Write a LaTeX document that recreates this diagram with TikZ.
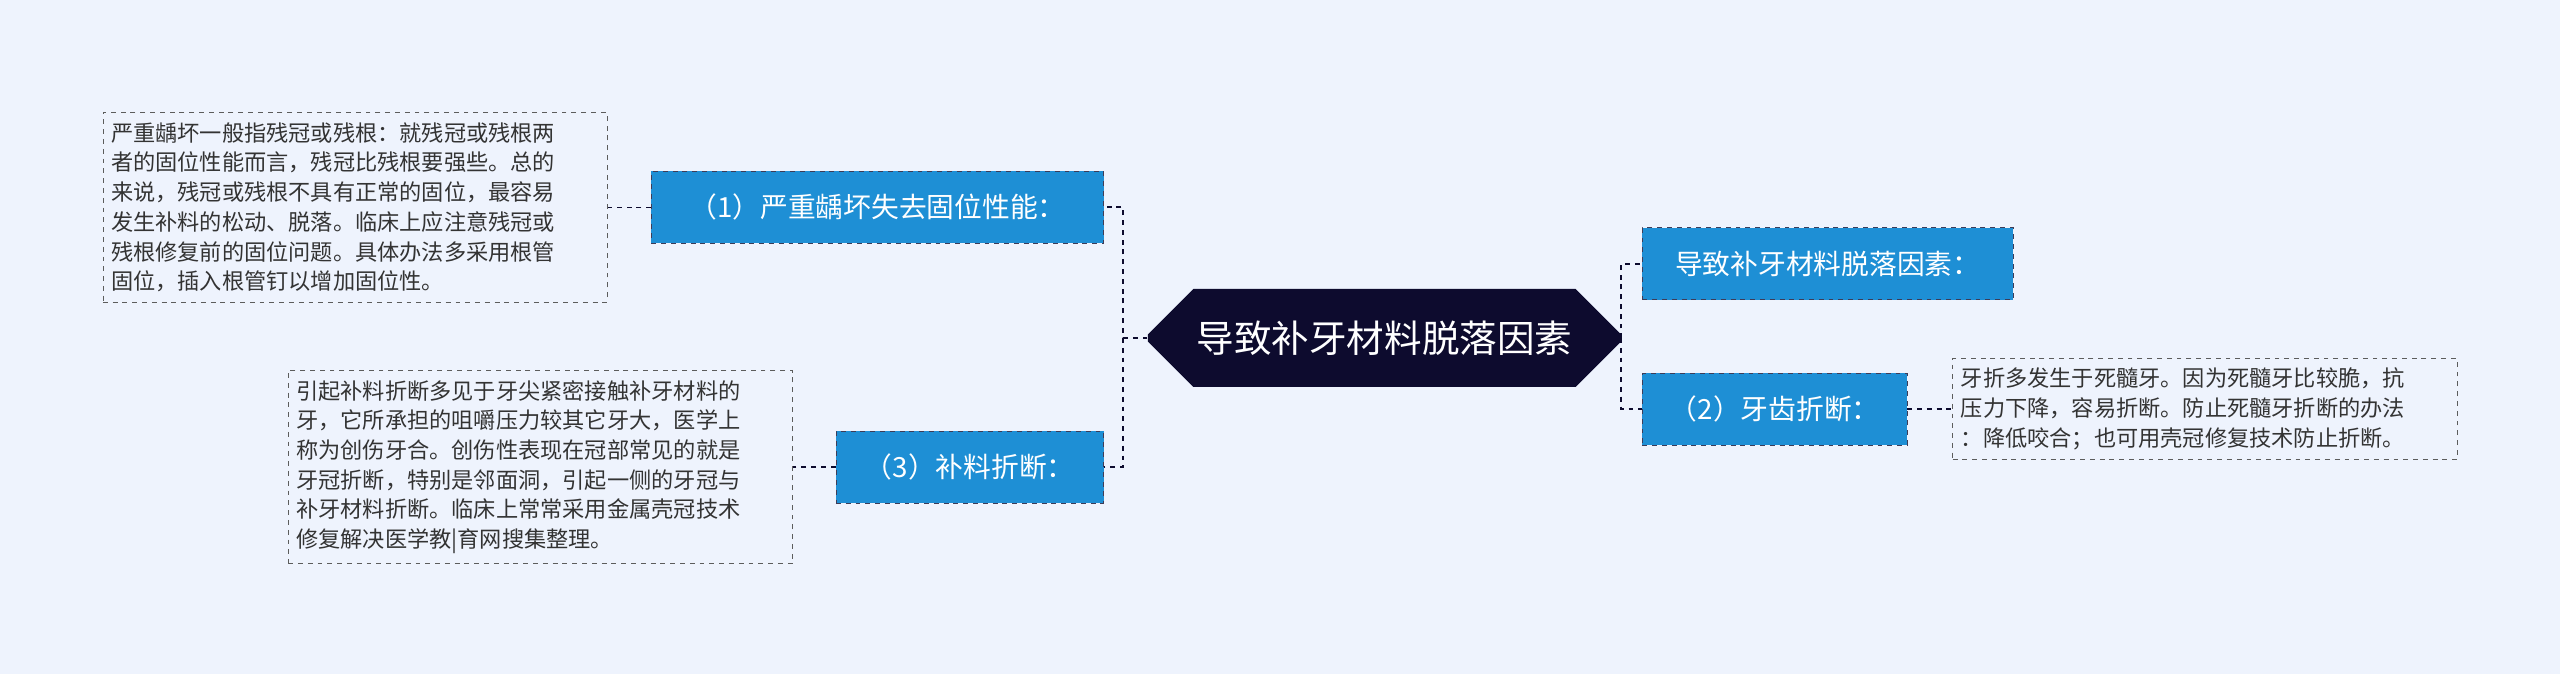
\documentclass[tikz,border=0pt]{standalone}
\usepackage{fontspec}
\newfontfamily\cjk{Noto Sans CJK SC}
\usetikzlibrary{shapes.misc,shapes.geometric}
\definecolor{bg}{HTML}{EEF3FD}
\definecolor{navy}{HTML}{0D0B2E}
\definecolor{blu}{HTML}{1E8FD5}
\definecolor{txt}{HTML}{333333}
\begin{document}
\begin{tikzpicture}[x=1pt,y=-1pt,
  topic/.style={draw=navy!80,dashed,fill=blu,text=white,font=\cjk\fontsize{17}{19}\selectfont,minimum height=44pt,inner xsep=6pt,anchor=center},
  leaf/.style={draw=txt!80,dashed,fill=bg,text=txt,font=\cjk\fontsize{13.6}{18.2}\selectfont,align=left,inner xsep=5pt,inner ysep=6pt,text width=#1},
  link/.style={draw=navy,dashed,line width=1.4pt}]
\fill[bg] (0,0) rectangle (1568,413);
\useasboundingbox (0,0) rectangle (1568,413);
\node[fill=navy,text=white,font=\cjk\fontsize{23}{25}\selectfont,chamfered rectangle,chamfered rectangle xsep=8pt,chamfered rectangle sep=14pt,chamfered rectangle corners={north west,south west,north east,south east},minimum width=290pt,minimum height=60pt] (c) at (848,207) {导致补牙材料脱落因素};
\node[topic,minimum width=277pt] (n1) at (537.5,127) {（1）严重龋坏失去固位性能：};
\node[topic,minimum width=164pt] (n3) at (594,286) {（3）补料折断：};
\node[topic,minimum width=227pt] (na) at (1119.5,161.5) {导致补牙材料脱落因素：};
\node[topic,minimum width=162pt] (n2) at (1087,250.5) {（2）牙齿折断：};
\node[leaf=299pt] (t1) at (217.5,127) {严重龋坏一般指残冠或残根：就残冠或残根两\\者的固位性能而言，残冠比残根要强些。总的\\来说，残冠或残根不具有正常的固位，最容易\\发生补料的松动、脱落。临床上应注意残冠或\\残根修复前的固位问题。具体办法多采用根管\\固位，插入根管钉以增加固位性。};
\node[leaf=299pt] (t3) at (331,286) {引起补料折断多见于牙尖紧密接触补牙材料的\\牙，它所承担的咀嚼压力较其它牙大，医学上\\称为创伤牙合。创伤性表现在冠部常见的就是\\牙冠折断，特别是邻面洞，引起一侧的牙冠与\\补牙材料折断。临床上常常采用金属壳冠技术\\修复解决医学教|育网搜集整理。};
\node[leaf=299pt] (t2) at (1350.5,250.5) {牙折多发生于死髓牙。因为死髓牙比较脆，抗\\压力下降，容易折断。防止死髓牙折断的办法\\：降低咬合；也可用壳冠修复技术防止折断。};
\coordinate (lj) at (688,207);
\coordinate (rj) at (993,207);
\draw[link] (c.west) -- (lj) |- (n1.east);
\draw[link] (lj) |- (n3.east);
\draw[link] (c.east) -- (rj) |- (na.west);
\draw[link] (rj) |- (n2.west);
\draw[link,line width=1pt] (n1.west) -- (t1.east);
\draw[link,line width=1pt] (n3.west) -- (t3.east);
\draw[link,line width=1pt] (n2.east) -- (t2.west);
\end{tikzpicture}
\end{document}
